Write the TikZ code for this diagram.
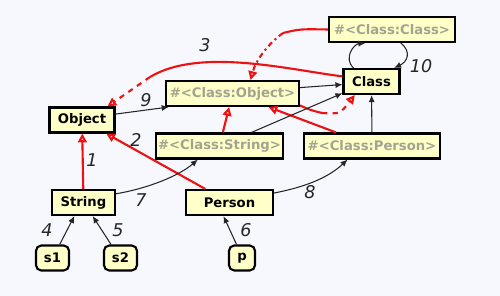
\documentclass[tikz,border=0pt]{standalone}
\usepackage{fontspec}
\setsansfont{DejaVu Sans}
\usetikzlibrary{arrows.meta}
\definecolor{bg}{HTML}{F7F8FD}
\definecolor{lt}{HTML}{FFFFC8}
\definecolor{gr}{HTML}{A3A391}
\definecolor{rd}{HTML}{EE1111}
\tikzset{
  obj/.style={draw=black,line width=1.2pt,fill=lt,inner sep=1pt,minimum height=0.5cm,
    font=\sffamily\bfseries\fontsize{7.5}{8}\selectfont},
  meta/.style={obj,text=gr},
  inst/.style={obj,rounded corners=3pt},
  ar/.style={-{Latex[length=4pt,width=3.5pt]},line width=0.6pt,draw=black!85},
  redln/.style={line width=1.2pt,draw=rd},
  sup/.style={redln,-{Triangle[open,length=5pt,width=5pt]}},
  num/.style={font=\sffamily\itshape\fontsize{10}{11}\selectfont,text=black!85},
}
\begin{document}
\begin{tikzpicture}[x=0.02cm,y=-0.02cm]
\fill[bg] (0,0) rectangle (500,296);
\path[use as bounding box] (0,0) rectangle (500,296);

% objects and their singleton classes
\node[obj,minimum width=1.3cm] (Object) at (82,120) {Object};
\node[meta,minimum width=2.66cm] (CObject) at (232.5,93.5) {\#<Class:Object>};
\node[meta,minimum width=2.52cm] (CClass) at (392,29.5) {\#<Class:Class>};
\node[obj,minimum width=1.12cm] (Class) at (371.5,81.5) {Class};
\node[meta,minimum width=2.54cm] (CString) at (219.5,146) {\#<Class:String>};
\node[meta,minimum width=2.72cm] (CPerson) at (372,146) {\#<Class:Person>};
\node[obj,minimum width=1.26cm] (String) at (83.5,202.5) {String};
\node[obj,minimum width=1.74cm] (Person) at (229.5,202.5) {Person};
\node[inst,minimum width=0.66cm] (s1) at (52.5,258) {s1};
\node[inst,minimum width=0.66cm] (s2) at (120.5,258) {s2};
\node[inst,minimum width=0.52cm] (p) at (242,258) {p};

% superclass links
\draw[sup] (String) -- (Object);
\draw[sup] (Person) -- (Object);
\draw[sup] (CString) -- (CObject);
\draw[sup] (CPerson) -- (CObject);

\coordinate (m3) at (150,77);
\draw[redln] (Class.170) .. controls (290,70) and (200,47) .. (m3);
\draw[sup,dashed] (m3) -- (Object.28);

\coordinate (m4) at (283,33);
\draw[redln] (CClass.west) .. controls (300,29) .. (m4);
\draw[sup,dash dot] (m4) .. controls (268,44) and (256,60) .. (CObject.37);

\coordinate (m7) at (322,113);
\draw[redln] (CObject.-10) .. controls (310,110) .. (m7);
\draw[sup,dashed] (m7) .. controls (340,114) .. (Class.219);

% class links
\draw[ar] (Object.10) -- (CObject.192);
\draw[ar] (CObject.5) -- (Class.186);
\draw[ar] (CString.23) -- (Class.202);
\draw[ar] (CPerson) -- (Class);
\draw[ar] (Class.143) .. controls (343,58) and (354,44) .. (CClass.207);
\draw[ar] (CClass.-57) .. controls (412,52) and (407,62) .. (Class.31);
\draw[ar] (String.15) .. controls (150,188) and (180,175) .. (CString.212);
\draw[ar] (Person.12) .. controls (310,186) and (330,176) .. (CPerson.209);
\draw[ar] (s1.62) -- (String.236);
\draw[ar] (s2.125) -- (String.304);
\draw[ar] (p.112) -- (Person.246);

% numbers
\node[num] (n1) at (92,160) {1};
\node[num] (n2) at (136,140) {2};
\node[num] (n3) at (205,45) {3};
\node[num] (n4) at (47,230) {4};
\node[num] (n5) at (118,230) {5};
\node[num] (n6) at (246,230) {6};
\node[num] (n7) at (141,200) {7};
\node[num] (n8) at (310,192) {8};
\node[num] (n9) at (146,100) {9};
\node[num] (n10) at (421,66) {10};
\end{tikzpicture}
\end{document}
